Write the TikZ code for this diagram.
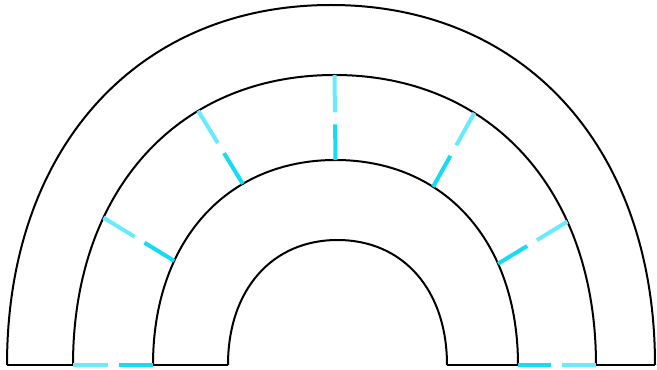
\documentclass[tikz,border=0pt]{standalone}
\usetikzlibrary{calc}
\definecolor{cyanlight}{RGB}{104,234,255}
\definecolor{cyandark}{RGB}{22,219,246}

\begin{document}
\begin{tikzpicture}[
  x=1pt, y=1pt,
  arcline/.style={draw=black, line width=2pt},
  spokeout/.style={draw=cyanlight, line width=4pt},
  spokein/.style={draw=cyandark, line width=4pt}
]
\useasboundingbox (0,0) rectangle (657,370);

% arches
\draw[arcline] (7,5) .. controls (7,221) and (136.6,365) .. (331,365)
  .. controls (525.4,365) and (655,221) .. (655,5);
\draw[arcline] (73,5) coordinate (o180)
  .. controls (73,179) and (177.6,295) .. (334.5,295)
     coordinate[pos=0.32] (o150) coordinate[pos=0.67] (o120) coordinate (o90)
  .. controls (491.4,295) and (596,179) .. (596,5)
     coordinate[pos=0.34] (o60) coordinate[pos=0.69] (o30) coordinate (o0);
\draw[arcline] (153,5) coordinate (i180)
  .. controls (153,128) and (226,210) .. (335.5,210)
     coordinate[pos=0.32] (i150) coordinate[pos=0.68] (i120) coordinate (i90)
  .. controls (445,210) and (518,128) .. (518,5)
     coordinate[pos=0.34] (i60) coordinate[pos=0.69] (i30) coordinate (i0);
\draw[arcline] (228,5) .. controls (228,80) and (271.8,130) .. (337.5,130)
  .. controls (403.2,130) and (447,80) .. (447,5);

% base line
\draw[arcline] (7,5) -- (73,5);
\draw[arcline] (153,5) -- (228,5);
\draw[arcline] (447,5) -- (518,5);
\draw[arcline] (596,5) -- (655,5);

% spokes
\foreach \s in {0,30,60,90,120,150,180} {
  \draw[spokeout] (o\s) -- ($(o\s)!0.44!(i\s)$);
  \draw[spokein] ($(o\s)!0.58!(i\s)$) -- (i\s);
}

\end{tikzpicture}
\end{document}
